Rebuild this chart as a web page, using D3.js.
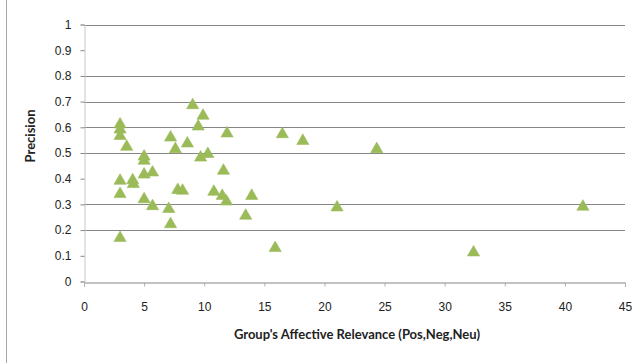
<!DOCTYPE html>
<html><head><meta charset="utf-8">
<script src="https://cdn.jsdelivr.net/npm/d3@7"></script>
<style>body{margin:0;background:#fff}svg{display:block}</style>
</head><body>
<svg id="c" width="641" height="363"></svg>
<script>
const relevance = [3.0,3.0,3.0,3.55,3.0,3.0,3.0,4.05,4.1,5.0,5.0,5.0,5.0,5.7,5.7,7.05,7.2,7.2,7.6,7.8,8.2,8.6,9.04,9.5,9.9,9.7,10.3,10.8,11.5,11.6,11.85,11.9,13.45,13.95,15.9,16.5,18.2,21.05,24.35,32.4,41.5];
const precision = [0.615,0.595,0.57,0.528,0.396,0.344,0.173,0.398,0.383,0.49,0.474,0.42,0.324,0.428,0.297,0.286,0.564,0.227,0.519,0.36,0.357,0.541,0.69,0.607,0.649,0.486,0.5,0.353,0.337,0.435,0.315,0.58,0.26,0.337,0.134,0.577,0.551,0.292,0.519,0.117,0.295];
const xTicks = [0,5,10,15,20,25,30,35,40,45];
const yTicks = [0,0.1,0.2,0.3,0.4,0.5,0.6,0.7,0.8,0.9,1];
const gridValues = [0.2,0.3,0.5,0.6,0.7,0.8,1];
const xTitle = "Group's Affective Relevance (Pos,Neg,Neu)";
const yTitle = "Precision";

const svg = d3.select("#c");
const x = d3.scaleLinear().domain([0,45]).range([84,625]);
const y = d3.scaleLinear().domain([0,1]).range([281.5,24.5]);

// left frame line
svg.append("line").attr("x1",6.5).attr("x2",6.5).attr("y1",0).attr("y2",363).attr("stroke","#a6a6a6").attr("stroke-width",1);

// gridlines
svg.append("g").selectAll("line").data(gridValues).join("line")
  .attr("x1",x(0)).attr("x2",x(45))
  .attr("y1",d=>Math.round(y(d))+0.5).attr("y2",d=>Math.round(y(d))+0.5)
  .attr("stroke","#868686").attr("stroke-width",1);

// y axis
const yAxis = svg.append("g").attr("transform",`translate(${x(0)+0.5},0)`)
  .call(d3.axisLeft(y).tickValues(yTicks).tickFormat(d=>d3.format("")(+d.toFixed(1))).tickSize(4).tickPadding(9));
yAxis.select(".domain").attr("stroke","#c8c8c8");
yAxis.selectAll(".tick line").attr("stroke","#868686");
yAxis.selectAll("text").attr("font-family","Liberation Sans, Arial, sans-serif").attr("font-size",12).attr("fill","#222");

// x axis
const xAxis = svg.append("g").attr("transform",`translate(0,${Math.round(y(0))+0.5})`)
  .call(d3.axisBottom(x).tickValues(xTicks).tickSize(4).tickPadding(16));
xAxis.select(".domain").attr("stroke","#868686");
xAxis.selectAll(".tick line").attr("stroke","#b0b0b0");
xAxis.selectAll("text").attr("font-family","Liberation Sans, Arial, sans-serif").attr("font-size",12).attr("fill","#222");

// titles
svg.append("text").attr("x",357).attr("y",339).attr("text-anchor","middle")
  .attr("font-family","Lato, Open Sans, sans-serif").attr("font-weight","bold").attr("font-size",13).attr("fill","#222").text(xTitle);
svg.append("text").attr("transform","translate(35,136) rotate(-90)").attr("text-anchor","middle")
  .attr("font-family","Lato, Open Sans, sans-serif").attr("font-weight","bold").attr("font-size",13).attr("fill","#222").text(yTitle);

// markers
const tri = d3.symbol().type(d3.symbolTriangle).size(64);
svg.append("g").selectAll("path").data(relevance.map((r,i)=>[r,precision[i]])).join("path")
  .attr("d",tri)
  .attr("transform",d=>`translate(${x(d[0])},${y(d[1])+1})`)
  .attr("fill","#9bbb59").attr("stroke","#9bbb59").attr("stroke-width",0.6);
</script>
</body></html>
